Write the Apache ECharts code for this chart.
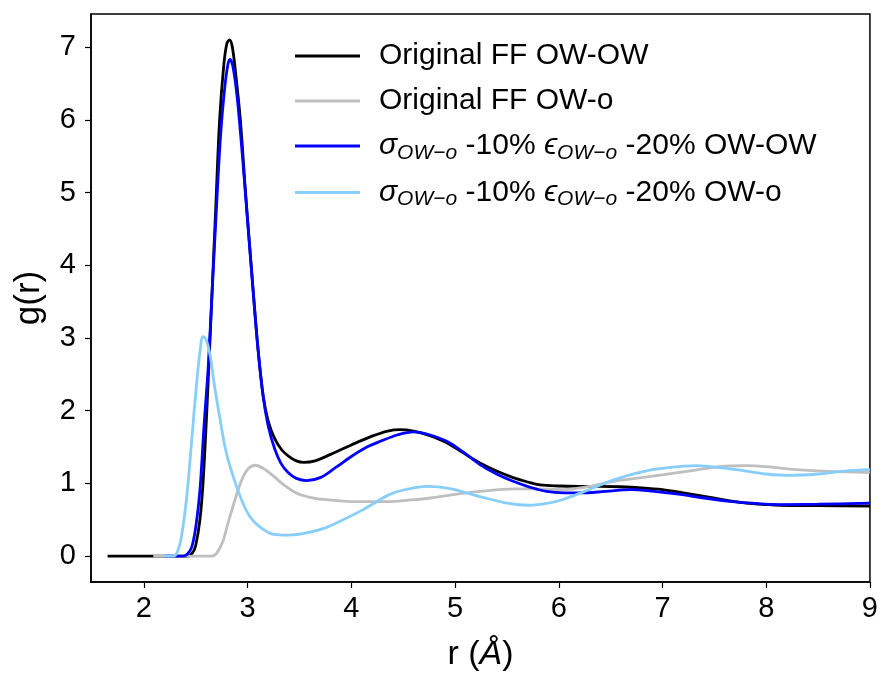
<!DOCTYPE html>
<html>
<head>
<meta charset="utf-8">
<script src="https://cdn.jsdelivr.net/npm/echarts@6/dist/echarts.min.js"></script>
<style>
html,body{margin:0;padding:0;background:#fff;}
#chart{width:881px;height:679px;}
</style>
</head>
<body>
<div id="chart"></div>
<script>
// ---- data (r in Å, g(r)) ----
const xTicks = [2, 3, 4, 5, 6, 7, 8, 9];
const yTicks = [0, 1, 2, 3, 4, 5, 6, 7];

const seriesNames = [
  'Original FF OW-OW',
  'Original FF OW-o',
  'sigma10eps20 OW-OW',
  'sigma10eps20 OW-o'
];

const origOWOW = [
  [1.65,0],[2.0,0],[2.3,0],[2.42,0],[2.47,0.05],[2.50,0.15],[2.54,0.5],[2.57,1.0],[2.61,2.1],
  [2.65,3.4],[2.69,4.7],[2.73,6.0],[2.77,6.75],[2.80,7.05],[2.826,7.1],[2.85,7.02],[2.88,6.7],
  [2.93,6.0],[2.98,5.0],[3.04,3.9],[3.10,2.85],[3.15,2.2],[3.20,1.85],[3.26,1.62],[3.33,1.46],
  [3.40,1.37],[3.47,1.31],[3.54,1.29],[3.65,1.31],[3.8,1.40],[4.0,1.53],[4.2,1.65],[4.35,1.72],[4.47,1.74],
  [4.6,1.72],[4.75,1.66],[4.92,1.56],[5.08,1.42],[5.24,1.28],[5.4,1.17],[5.56,1.08],[5.7,1.02],
  [5.82,0.98],[6.0,0.965],[6.2,0.96],[6.4,0.96],[6.59,0.955],[6.8,0.94],[7.0,0.915],[7.2,0.87],
  [7.49,0.80],[7.65,0.76],[7.81,0.73],[8.0,0.71],[8.13,0.70],[8.5,0.695],[9.0,0.69]
];

const origOWo = [
  [2.09,0],[2.5,0],[2.65,0],[2.70,0.04],[2.76,0.2],[2.81,0.45],[2.86,0.69],[2.91,0.92],[2.96,1.10],
  [3.01,1.21],[3.07,1.25],[3.15,1.21],[3.25,1.10],[3.35,0.98],[3.47,0.87],[3.6,0.81],[3.73,0.78],
  [3.9,0.76],[4.05,0.75],[4.37,0.75],[4.55,0.77],[4.76,0.80],[5.0,0.85],[5.24,0.89],[5.56,0.925],
  [5.8,0.925],[6.04,0.915],[6.3,0.96],[6.53,1.03],[6.8,1.08],[7.01,1.12],[7.25,1.17],[7.49,1.22],
  [7.65,1.24],[7.81,1.245],[8.0,1.23],[8.29,1.19],[8.6,1.165],[9.0,1.15]
];

const modOWOW = [
  [2.2,0],[2.38,0],[2.42,0.03],[2.46,0.12],[2.50,0.4],[2.54,0.9],[2.58,1.8],[2.62,2.6],[2.66,3.7],
  [2.70,4.8],[2.74,5.8],[2.78,6.45],[2.81,6.76],[2.83,6.83],[2.86,6.72],[2.90,6.3],[2.95,5.5],
  [3.0,4.6],[3.05,3.7],[3.10,2.85],[3.15,2.2],[3.20,1.78],[3.26,1.48],[3.32,1.28],[3.39,1.15],
  [3.47,1.07],[3.57,1.04],[3.7,1.08],[3.85,1.22],[4.0,1.37],[4.15,1.50],[4.28,1.58],[4.45,1.67],[4.60,1.71],
  [4.75,1.67],[4.92,1.58],[5.08,1.43],[5.24,1.26],[5.4,1.13],[5.56,1.03],[5.72,0.95],[5.88,0.89],
  [6.05,0.87],[6.2,0.87],[6.45,0.89],[6.69,0.915],[6.9,0.895],[7.17,0.85],[7.4,0.80],[7.65,0.755],
  [7.9,0.725],[8.13,0.71],[8.5,0.715],[9.0,0.73]
];

const modOWo = [
  [2.19,0],[2.28,0],[2.32,0.05],[2.36,0.25],[2.41,0.78],[2.45,1.4],[2.48,1.92],[2.51,2.4],[2.54,2.8],
  [2.57,3.02],[2.60,2.98],[2.64,2.75],[2.68,2.35],[2.73,1.92],[2.79,1.45],[2.86,1.10],[2.94,0.78],
  [3.02,0.55],[3.12,0.40],[3.25,0.30],[3.4,0.29],[3.57,0.32],[3.75,0.39],[3.89,0.48],[4.1,0.63],
  [4.28,0.78],[4.37,0.85],[4.5,0.91],[4.73,0.96],[4.95,0.93],[5.24,0.82],[5.5,0.73],[5.72,0.70],
  [5.9,0.73],[6.04,0.78],[6.3,0.92],[6.53,1.05],[6.8,1.16],[7.01,1.21],[7.33,1.245],[7.6,1.21],
  [7.81,1.17],[8.0,1.13],[8.23,1.11],[8.5,1.13],[8.75,1.17],[9.0,1.19]
];

const colors = ['#000000', '#bfbfbf', '#0000ff', '#87cefa'];

// ---- chart ----
const FONT = 'Liberation Sans, Arial, Helvetica, sans-serif';
const chart = echarts.init(document.getElementById('chart'), null, {renderer: 'canvas'});

function legendLabel(name) {
  if (name === seriesNames[2]) {
    return '{it|σ}{sub|OW−o} -10% {it|ϵ}{sub|OW−o} -20% OW-OW';
  }
  if (name === seriesNames[3]) {
    return '{it|σ}{sub|OW−o} -10% {it|ϵ}{sub|OW−o} -20% OW-o';
  }
  return name;
}

const datasets = [origOWOW, origOWo, modOWOW, modOWo];

const option = {
  animation: false,
  backgroundColor: '#ffffff',
  grid: {
    left: 91, right: 10, top: 14, bottom: 97,
    show: true, borderColor: '#000', borderWidth: 1.5, backgroundColor: 'transparent'
  },
  legend: {
    orient: 'vertical',
    left: 290, top: 35,
    itemWidth: 65, itemHeight: 3,
    itemGap: 13,
    icon: 'rect',
    data: seriesNames,
    formatter: legendLabel,
    textStyle: {
      fontFamily: FONT, fontSize: 30, color: '#000', lineHeight: 32, padding: [0, 0, 0, 14],
      rich: {
        it: {fontFamily: FONT, fontSize: 30, fontStyle: 'italic', color: '#000'},
        sub: {fontFamily: FONT, fontSize: 21, fontStyle: 'italic', color: '#000', padding: [14, 0, 0, 0]}
      }
    }
  },
  xAxis: {
    type: 'value', min: 1.49, max: 9,
    name: '{n|r (}{i|Å}{n|)}',
    nameLocation: 'middle', nameGap: 56,
    nameTextStyle: {
      rich: {
        n: {fontFamily: FONT, fontSize: 34, color: '#000'},
        i: {fontFamily: FONT, fontSize: 34, fontStyle: 'italic', color: '#000'}
      }
    },
    axisLine: {show: true, onZero: false, lineStyle: {color: '#000', width: 1.5}},
    axisTick: {show: true, inside: false, length: 6, lineStyle: {color: '#000', width: 1.2}, customValues: xTicks},
    axisLabel: {show: true, margin: 12, fontFamily: FONT, fontSize: 29, color: '#000', customValues: xTicks,
      formatter: v => String(v)},
    splitLine: {show: false}
  },
  yAxis: {
    type: 'value', min: -0.355, max: 7.455,
    name: 'g(r)',
    nameLocation: 'middle', nameGap: 44,
    nameTextStyle: {fontFamily: FONT, fontSize: 35, color: '#000'},
    axisLine: {show: true, onZero: false, lineStyle: {color: '#000', width: 1.5}},
    axisTick: {show: true, inside: false, length: 6, lineStyle: {color: '#000', width: 1.2}, customValues: yTicks},
    axisLabel: {show: true, margin: 15, fontFamily: FONT, fontSize: 29, color: '#000', customValues: yTicks,
      formatter: v => String(v)},
    splitLine: {show: false}
  },
  series: datasets.map((d, i) => ({
    name: seriesNames[i],
    type: 'line',
    data: d,
    symbol: 'none',
    smooth: 0.35,
    color: colors[i],
    lineStyle: {color: colors[i], width: 2.8},
    z: 2 + i
  }))
};

chart.setOption(option);
</script>
</body>
</html>
